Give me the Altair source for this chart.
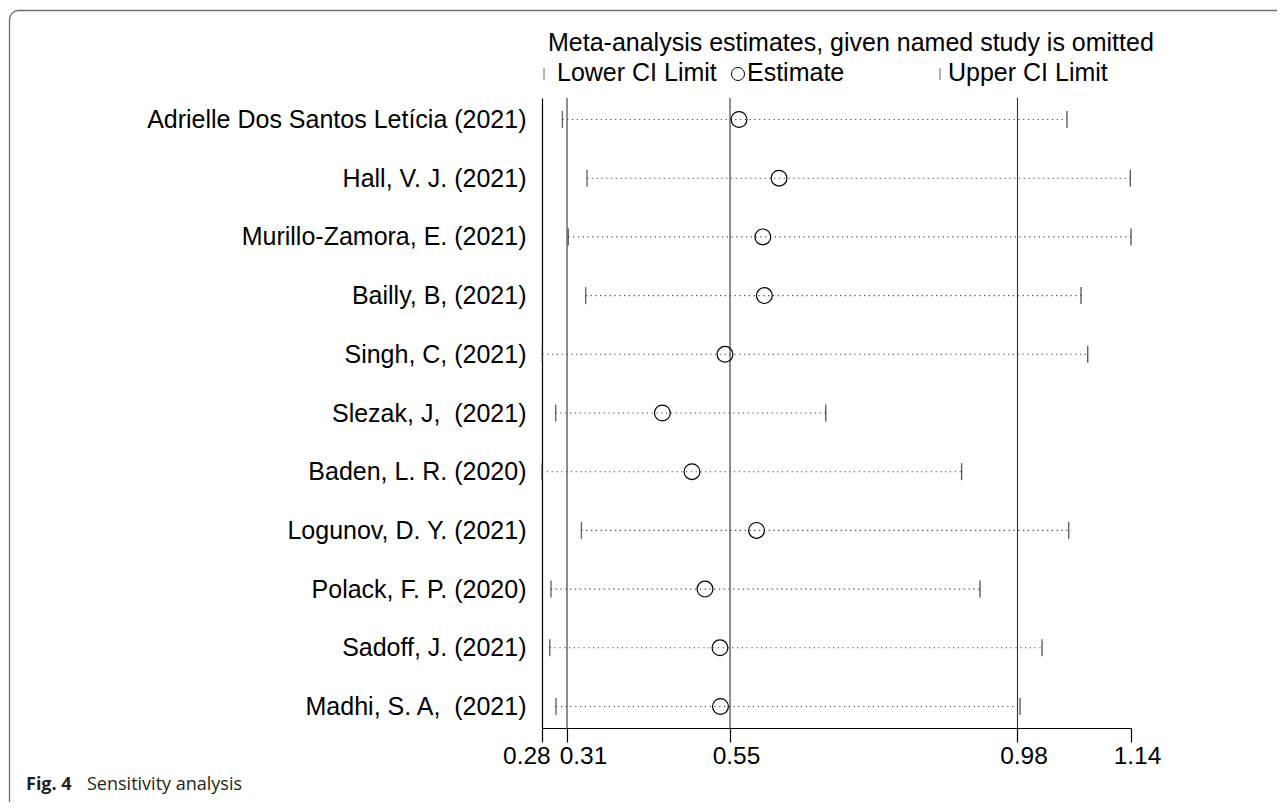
import altair as alt
import pandas as pd

# ---- data ----
studies = [
    "Adrielle Dos Santos Letícia (2021)",
    "Hall, V. J. (2021)",
    "Murillo-Zamora, E. (2021)",
    "Bailly, B, (2021)",
    "Singh, C, (2021)",
    "Slezak, J,\u00a0 (2021)",
    "Baden, L. R. (2020)",
    "Logunov, D. Y. (2021)",
    "Polack, F. P. (2020)",
    "Sadoff, J. (2021)",
    "Madhi, S. A,\u00a0 (2021)",
]
estimate = [0.5670, 0.6257, 0.6019, 0.6042, 0.5464, 0.4546, 0.4980, 0.5927, 0.5171, 0.5391, 0.5398]
lower = [0.3079, 0.3440, 0.3166, 0.3421, 0.2785, 0.2981, 0.2780, 0.3358, 0.2912, 0.2894, 0.2985]
upper = [1.0481, 1.1410, 1.1420, 1.0687, 1.0785, 0.6942, 0.8935, 1.0506, 0.9205, 1.0115, 0.9792]
overall = [0.3147, 0.5538, 0.9755]          # pooled lower CI, estimate, upper CI
axis_ticks = [0.2780, 0.3147, 0.5538, 0.9755, 1.1420]
title_text = "Meta-analysis estimates, given named study is omitted"
legend_labels = ["Lower CI Limit", "Estimate", "Upper CI Limit"]
caption_bold = "Fig. 4"
caption_text = "Sensitivity analysis"

FONT = "Liberation Sans"
FS = 25
FS_TICK = 24.5

df = pd.DataFrame({"study": studies, "est": estimate, "lo": lower, "hi": upper})
df_ref = pd.DataFrame({"v": overall})
dummy = pd.DataFrame({"k": [0]})

xscale = alt.Scale(domain=[min(lower), max(upper)], nice=False, zero=False)
yscale = alt.Scale(type="point", padding=0.366)

xaxis = alt.Axis(
    values=axis_ticks, format=".2f", title=None, grid=False,
    domainColor="black", domainWidth=1.2, tickColor="black", tickWidth=1.2,
    tickSize=14, labelFont=FONT, labelFontSize=FS_TICK, labelColor="black",
    labelPadding=2.5, labelFlush=False, labelOverlap=False,
    labelOffset={"condition": [
        {"test": "datum.value < 0.29", "value": -15.6},
        {"test": "datum.value < 0.32", "value": 16},
    ], "value": 6},
)
yaxis = alt.Axis(
    title=None, grid=False, ticks=False, tickSize=0, domainColor="black",
    domainWidth=1.2, labelFont=FONT, labelFontSize=FS, labelColor="black",
    labelPadding=16, labelLimit=600,
)

X = lambda f: alt.X(f, scale=xscale, axis=xaxis)
Y = alt.Y("study:N", sort=studies, scale=yscale, axis=yaxis)

border = alt.Chart(dummy).mark_rect(
    fillOpacity=0, stroke="#6e6e6e", strokeWidth=1.3, cornerRadius=9
).encode(x=alt.value(-532.5), x2=alt.value(800), y=alt.value(-87.5), y2=alt.value(720))

refs = alt.Chart(df_ref).mark_rule(color="#333333", strokeWidth=1.1).encode(x=X("v:Q"))

dots = alt.Chart(df).mark_rule(color="#444444", strokeWidth=1.1, strokeDash=[1.2, 3.6]).encode(
    x=X("lo:Q"), x2="hi:Q", y=Y
)
lo_ticks = alt.Chart(df).mark_tick(size=17, thickness=1.4, color="#2a2a2a").encode(x=X("lo:Q"), y=Y)
hi_ticks = alt.Chart(df).mark_tick(size=17, thickness=1.4, color="#1a1a1a").encode(x=X("hi:Q"), y=Y)
circles = alt.Chart(df).mark_point(
    shape="circle", filled=False, size=250, color="black", strokeWidth=1.2, opacity=1
).encode(x=X("est:Q"), y=Y)

def txt(s, x, y, **kw):
    args = dict(text=s, align="left", baseline="alphabetic", font=FONT, fontSize=FS, color="black")
    args.update(kw)
    return alt.Chart(dummy).mark_text(**args).encode(x=alt.value(x), y=alt.value(y))

title = txt(title_text, 6, -47)
leg_bar1 = alt.Chart(dummy).mark_rule(color="#666666", strokeWidth=1).encode(
    x=alt.value(2), y=alt.value(-30), y2=alt.value(-18))
leg_lo = txt(legend_labels[0], 15, -17)
leg_circ = alt.Chart(dummy).mark_point(shape="circle", filled=False, size=169, color="black",
                                       strokeWidth=1, opacity=1).encode(
    x=alt.value(196), y=alt.value(-24))
leg_est = txt(legend_labels[1], 205, -17)
leg_bar2 = alt.Chart(dummy).mark_rule(color="#666666", strokeWidth=1).encode(
    x=alt.value(398), y=alt.value(-30), y2=alt.value(-18))
leg_hi = txt(legend_labels[2], 406, -17)

cap1 = txt(caption_bold, -516, 692, font="Open Sans", fontSize=18, fontWeight="bold", color="#231f20")
cap2 = txt(caption_text, -455, 692, font="Open Sans", fontSize=18, color="#231f20")

chart = alt.layer(
    border, refs, dots, lo_ticks, hi_ticks, circles,
    title, leg_bar1, leg_lo, leg_circ, leg_est, leg_bar2, leg_hi, cap1, cap2,
).properties(
    width=589, height=630,
    autosize=alt.AutoSizeParams(type="none"),
    padding={"left": 534, "top": 90, "right": 146, "bottom": 74},
    background="white",
).configure_view(stroke=None)

chart.save("out.html", embed_options={"renderer": "svg", "actions": False})
